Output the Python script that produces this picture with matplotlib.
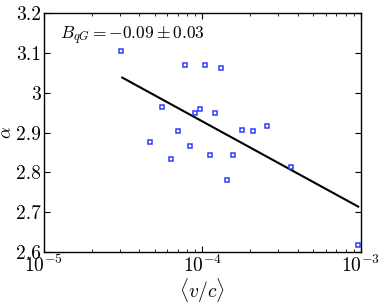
import math
import matplotlib
matplotlib.use("Agg")
import matplotlib.pyplot as plt
from matplotlib.ticker import FuncFormatter, LogLocator

# data
v_c = [3.06e-5, 7.76e-5, 1.04e-4, 1.31e-4, 5.57e-5, 8.93e-5, 9.59e-5, 1.20e-4,
       1.77e-4, 2.09e-4, 2.56e-4, 6.97e-5, 4.67e-5, 8.34e-5, 6.29e-5, 1.114e-4,
       1.56e-4, 1.43e-4, 3.61e-4, 9.6e-4]
alpha = [3.105, 3.069, 3.069, 3.063, 2.965, 2.948, 2.958, 2.950,
         2.906, 2.903, 2.916, 2.905, 2.877, 2.867, 2.833, 2.844,
         2.844, 2.782, 2.814, 2.617]

fit_x = [3.12e-5, 9.6e-4]
fit_y = [3.038, 2.714]

y_ticks = [2.6, 2.7, 2.8, 2.9, 3.0, 3.1, 3.2]

plt.rcParams['font.family'] = 'serif'
plt.rcParams['font.serif'] = ['cmr10', 'DejaVu Serif']
plt.rcParams['mathtext.fontset'] = 'cm'
plt.rcParams['axes.unicode_minus'] = False
plt.rcParams['axes.formatter.use_mathtext'] = True

fig = plt.figure(figsize=(3.82, 3.04), dpi=100)
ax = fig.add_axes([0.115, 0.171, 0.830, 0.786])

ax.plot(fit_x, fit_y, '-', color='black', lw=1.5)
ax.plot(v_c, alpha, 's', ms=3.3, mfc='white', mec='#2f3cff', mew=1.1, ls='none')

ax.set_xscale('log')
ax.set_xlim(1e-5, 1e-3)
ax.set_ylim(2.6, 3.2)
ax.set_yticks(y_ticks)
ax.yaxis.set_major_formatter(FuncFormatter(lambda v, p: '%g' % round(v, 2)))
ax.xaxis.set_major_locator(LogLocator(base=10, numticks=5))
ax.xaxis.set_major_formatter(FuncFormatter(lambda v, p: r'$10^{%d}$' % round(math.log10(v))))

ax.tick_params(which='both', direction='in', top=True, right=True, labelsize=14, pad=2)
ax.tick_params(which='major', length=4, width=0.8)
ax.tick_params(which='minor', length=2, width=0.6)
for s in ax.spines.values():
    s.set_linewidth(1.0)

ax.set_xlabel(r'$\langle v/c\rangle$', fontsize=14, labelpad=0)
ax.set_ylabel(r'$\alpha$', fontsize=13)
ax.yaxis.set_label_coords(-0.093, 0.5)

ax.text(0.05, 0.905, r'$B_{qG} = -0.09 \pm 0.03$', transform=ax.transAxes,
        fontsize=12.5, va='center', ha='left')

fig.savefig('out.png', dpi=100)
